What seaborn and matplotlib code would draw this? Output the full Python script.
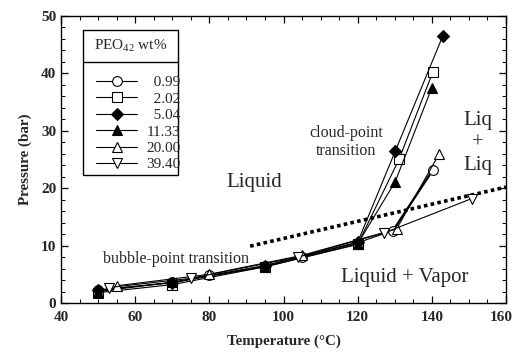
import matplotlib
matplotlib.use("Agg")
import matplotlib.pyplot as plt
import matplotlib.transforms as mtransforms
import seaborn as sns
import numpy as np
import pandas as pd
from matplotlib.patches import Rectangle
from matplotlib.lines import Line2D
from matplotlib.ticker import MultipleLocator

# ---- data ----
labels = ["\u20070.99", "\u20072.02", "\u20075.04", "11.33", "20.00", "39.40"]
markers = ["o", "s", "D", "^", "^", "v"]
filled = [False, False, True, True, False, False]

t_099 = [50, 70, 80, 95, 105, 120, 129.5, 140.3]
p_099 = [2.2, 3.6, 4.8, 6.5, 8.0, 10.5, 12.6, 23.2]
t_202 = [50, 70, 95, 120, 131.2, 140.3]
p_202 = [1.8, 3.2, 6.3, 10.2, 25.1, 40.3]
t_504 = [50, 70, 95, 120, 130.1, 143.0]
p_504 = [2.3, 3.5, 6.5, 10.6, 26.4, 46.6]
t_1133 = [50, 70, 95, 120, 130.1, 140.0]
p_1133 = [2.0, 3.6, 6.3, 10.3, 21.1, 37.5]
t_2000 = [55, 80, 105, 130.5, 142.0]
p_2000 = [3.0, 5.0, 8.3, 12.9, 26.0]
t_3940 = [53, 75, 104, 127.1, 150.8]
p_3940 = [2.7, 4.3, 8.0, 12.2, 18.2]

series_t = [t_099, t_202, t_504, t_1133, t_2000, t_3940]
series_p = [p_099, p_202, p_504, p_1133, p_2000, p_3940]

boundary_t = [91, 160]
boundary_p = [9.9, 20.2]

xticks = [40, 60, 80, 100, 120, 140, 160]
yticks = [0, 10, 20, 30, 40, 50]

# ---- style ----
sns.set_theme(style="ticks")
plt.rcParams["font.family"] = ["Liberation Serif", "DejaVu Serif"]
plt.rcParams["mathtext.fontset"] = "custom"
plt.rcParams["mathtext.rm"] = "Liberation Serif"

fig = plt.figure(figsize=(5.15, 3.52), dpi=100)
ax = fig.add_axes([61 / 515, 1 - 303 / 352, 445 / 515, 287 / 352])

for t, p, lab, m, f in zip(series_t, series_p, labels, markers, filled):
    sns.lineplot(x=t, y=p, ax=ax, color="black", lw=0.8, marker=m,
                 markersize=7 if m != "D" else 6,
                 markerfacecolor="black" if f else "white",
                 markeredgecolor="black", markeredgewidth=0.8,
                 label=lab, sort=False, estimator=None, zorder=3)

# thicker cloud-point segment of the 0.99 series
sns.lineplot(x=t_099[-2:], y=p_099[-2:], ax=ax, color="black", lw=1.6,
             sort=False, estimator=None, zorder=2, legend=False)

# dotted phase boundary
sns.lineplot(x=boundary_t, y=boundary_p, ax=ax, color="black", lw=2.6,
             linestyle=(0, (1, 0.9)), sort=False, estimator=None, legend=False, zorder=2)

ax.set_xlim(40, 160)
ax.set_ylim(0, 50)
ax.set_xticks(xticks)
ax.set_yticks(yticks)
ax.xaxis.set_minor_locator(MultipleLocator(5))
ax.yaxis.set_minor_locator(MultipleLocator(2))
ax.tick_params(which="both", direction="in", top=True, right=True, color="black")
ax.tick_params(which="major", length=5, width=0.9, labelsize=11)
ax.tick_params(which="minor", length=3, width=0.7)
ax.tick_params(axis="x", which="major", pad=6)
for lbl in ax.get_xticklabels() + ax.get_yticklabels():
    lbl.set_fontweight("bold")
last = ax.get_xticklabels()[-1]
last.set_transform(last.get_transform() +
                   mtransforms.ScaledTranslation(-5 / 100, 0, fig.dpi_scale_trans))
for s in ax.spines.values():
    s.set_color("black")
    s.set_linewidth(1.0)

ax.set_xlabel("Temperature (\u00b0C)", fontsize=10.8, fontweight="bold", labelpad=7)
ax.set_ylabel("Pressure (bar)", fontsize=10.8, fontweight="bold", labelpad=6)

# annotations
ax.text(92, 21, "Liquid", fontsize=15, ha="center", va="center")
ax.text(152.5, 27.8, "Liq\n+\nLiq", fontsize=15, ha="center", va="center", linespacing=1.25)
ax.text(132.8, 4.4, "Liquid + Vapor", fontsize=15, ha="center", va="center")
ax.text(116.9, 28.0, "cloud-point\ntransition", fontsize=11.5, ha="center", va="center")
ax.text(70.9, 7.7, "bubble-point transition", fontsize=11.5, ha="center", va="center")

# legend box
x0, x1 = (83 - 61) / 445, (178 - 61) / 445
y0, y1 = (303 - 175) / 287, (303 - 30) / 287
ysep = (303 - 62) / 287
ax.add_patch(Rectangle((x0, y0), x1 - x0, y1 - y0, transform=ax.transAxes,
                       facecolor="white", edgecolor="black", lw=1.0, zorder=4))
ax.add_line(Line2D([x0, x1], [ysep, ysep], transform=ax.transAxes, color="black", lw=1.0, zorder=5))
ax.text((x0 + x1) / 2, (ysep + y1) / 2, "PEO$_{42}$ wt%", transform=ax.transAxes,
        ha="center", va="center", fontsize=11, zorder=6)
leg = ax.legend(loc="upper left", bbox_to_anchor=(x0 + 0.005, ysep - 0.01), frameon=False,
                fontsize=11, handlelength=2.7, labelspacing=0.18, handletextpad=0.6,
                borderpad=0.2)
leg.set_zorder(6)

fig.savefig("out.png", dpi=100)
